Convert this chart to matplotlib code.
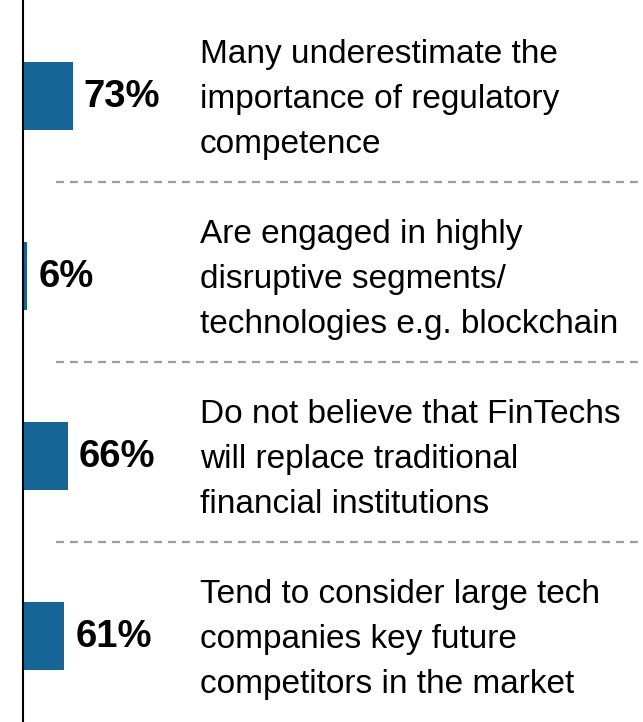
import numpy as np
import matplotlib
matplotlib.use('Agg')
import matplotlib.pyplot as plt

# survey results
pcts = [73, 6, 66, 61]
statements = [
    'Many underestimate the\nimportance of regulatory\ncompetence',
    'Are engaged in highly\ndisruptive segments/\ntechnologies e.g. blockchain',
    'Do not believe that FinTechs\nwill replace traditional\nfinancial institutions',
    'Tend to consider large tech\ncompanies key future\ncompetitors in the market',
]

bar_color = '#156596'
pos = np.arange(len(pcts))

fig = plt.figure(figsize=(6.43, 7.22), dpi=100)
ax = fig.add_axes([23 / 643, 0, 620 / 643, 1])

ax.barh(pos, pcts, height=0.378, color=bar_color, align='center')
ax.set_xlim(0, 912)
ax.set_ylim(3.478, -0.533)

# percentage labels next to the bars
for p, v in zip(pos, pcts):
    ax.annotate('%d%%' % v, xy=(v, p), xytext=(8, -1), textcoords='offset points',
                ha='left', va='center', fontsize=27.5, fontweight='bold',
                family=['Liberation Sans', 'DejaVu Sans'], color='black')

# statement text
for p, s in zip(pos, statements):
    ax.text(0.285, p + 0.02, s, transform=ax.get_yaxis_transform(),
            ha='left', va='center', fontsize=24, linespacing=1.58,
            family=['Liberation Sans', 'DejaVu Sans'], color='black')

# dashed separators
for p in pos[:-1]:
    ax.axhline(p - 0.02 + 0.5, xmin=0.053, xmax=1, color='#9a9ca0', lw=1.6,
               dashes=(3.6, 2.7))

for side in ['top', 'right', 'bottom']:
    ax.spines[side].set_visible(False)
ax.spines['left'].set_linewidth(1.5)
ax.spines['left'].set_color('black')
ax.set_xticks([])
ax.set_yticks([])

fig.savefig('out.png', dpi=100)
